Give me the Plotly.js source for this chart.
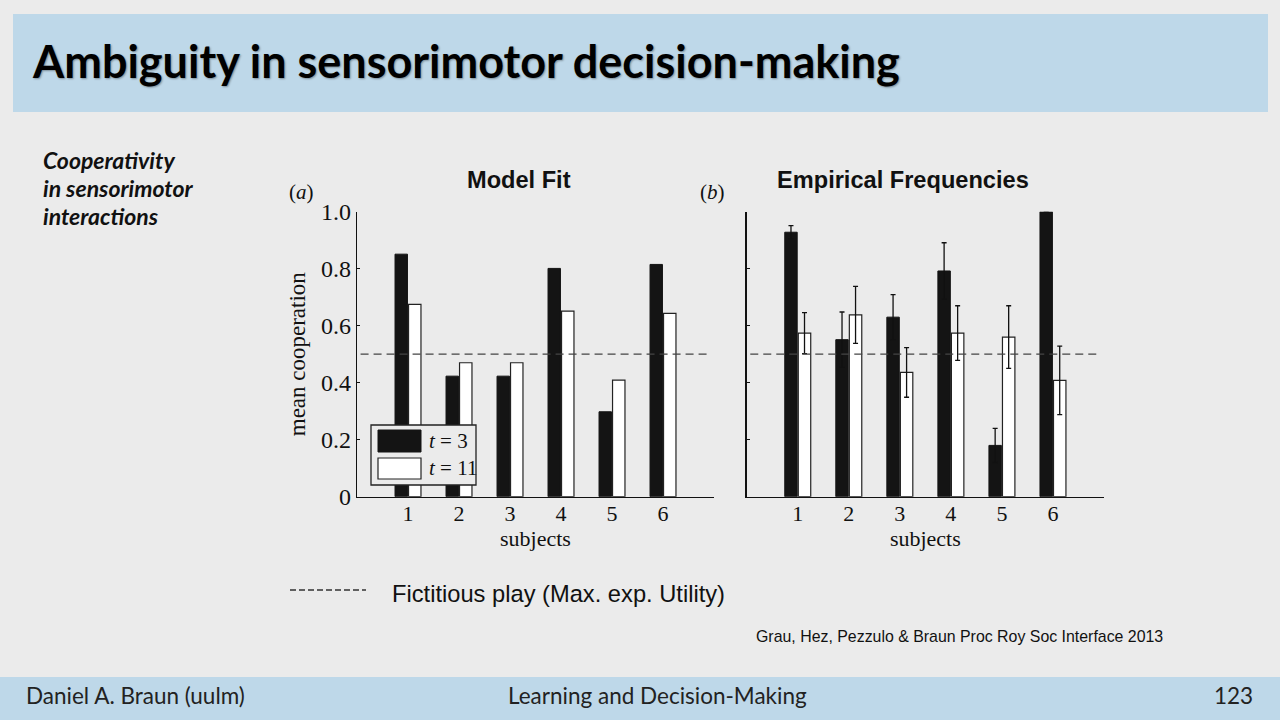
<!DOCTYPE html>
<html>
<head>
<meta charset="utf-8">
<script src="https://cdn.plot.ly/plotly-3.0.1.min.js"></script>
<style>
  html, body { margin: 0; padding: 0; background: #ebebeb; }
  #chart { width: 1280px; height: 720px; }
</style>
</head>
<body>
<div id="chart"></div>
<script>
// ---- data ----
const subjects = [1, 2, 3, 4, 5, 6];
const subjectLabels = ['1', '2', '3', '4', '5', '6'];
const seriesNames = ['t = 3', 't = 11'];
// Model fit (panel a)
const fitT3 = [0.851, 0.423, 0.423, 0.801, 0.298, 0.815];
const fitT11 = [0.675, 0.470, 0.470, 0.651, 0.409, 0.643];
// Empirical frequencies (panel b)
const empT3 = [0.928, 0.551, 0.630, 0.792, 0.180, 1.0];
const empT3Err = [0.023, 0.097, 0.079, 0.099, 0.060, 0];
const empT11 = [0.574, 0.638, 0.436, 0.574, 0.560, 0.408];
const empT11Err = [0.072, 0.100, 0.087, 0.096, 0.110, 0.120];
// reference level: fictitious play
const fictitiousPlay = 0.5;
const yTickVals = [0, 0.2, 0.4, 0.6, 0.8, 1.0];
const yTickText = ['0', '0.2', '0.4', '0.6', '0.8', '1.0'];

// ---- helpers ----
const W = 1280, H = 720;
const px = x => x / W;
const py = y => 1 - y / H;
const SERIF = 'Liberation Serif, Times New Roman, serif';
const SANS = 'Liberation Sans, Arial, sans-serif';
const SLIDE = 'Lato, Noto Sans, sans-serif';
const BG = '#ebebeb';
const BAND = '#bed8e9';
const INK = '#111111';

const blackBar = { color: '#141414', line: { color: '#141414', width: 1 } };
const whiteBar = { color: '#ffffff', line: { color: '#222222', width: 1.2 } };
const errStyle = { type: 'data', visible: true, color: '#111', thickness: 1.3, width: 2.5 };

const traces = [
  { type: 'bar', x: subjects, y: fitT3, name: seriesNames[0], marker: blackBar, xaxis: 'x', yaxis: 'y', showlegend: false },
  { type: 'bar', x: subjects, y: fitT11, name: seriesNames[1], marker: whiteBar, xaxis: 'x', yaxis: 'y', showlegend: false },
  { type: 'bar', x: subjects, y: empT3, name: seriesNames[0], marker: blackBar, xaxis: 'x2', yaxis: 'y2', showlegend: false,
    error_y: Object.assign({ array: empT3Err }, errStyle) },
  { type: 'bar', x: subjects, y: empT11, name: seriesNames[1], marker: whiteBar, xaxis: 'x2', yaxis: 'y2', showlegend: false,
    error_y: Object.assign({ array: empT11Err }, errStyle) }
];

const yDomain = [py(496.7), py(211.7)];
const xAxisCommon = {
  range: [0, 7], tickvals: subjects, ticktext: subjectLabels,
  showline: true, linecolor: INK, linewidth: 1.3, ticks: '', showgrid: false, zeroline: false,
  tickfont: { family: SERIF, size: 22, color: INK }, ticklabelstandoff: -3,
  title: { text: 'subjects', font: { family: SERIF, size: 22, color: INK }, standoff: 0 },
  fixedrange: true
};
const yAxisCommon = {
  range: [0, 1], tickvals: yTickVals, ticktext: yTickText,
  showline: true, linecolor: INK, linewidth: 1.3, ticks: 'inside', ticklen: 3, tickcolor: INK,
  showgrid: false, zeroline: false, domain: yDomain,
  tickfont: { family: SERIF, size: 24, color: INK }, fixedrange: true
};

const ann = (text, x, y, opts) => Object.assign({
  text: text, x: px(x), y: py(y), xref: 'paper', yref: 'paper', showarrow: false,
  xanchor: 'left', yanchor: 'middle'
}, opts || {});

const annotations = [
  ann('<b>Ambiguity in sensorimotor decision-making</b>', 30, 61,
      { font: { family: SLIDE, size: 45, color: '#000', shadow: '1px 1px 2px rgba(0,0,0,0.35)' } }),
  ann('Daniel A. Braun (uulm)', 24, 695, { font: { family: SLIDE, size: 22.5, color: '#222' } }),
  ann('Learning and Decision-Making', 657, 695, { xanchor: 'center', font: { family: SLIDE, size: 22.5, color: '#222' } }),
  ann('123', 1255, 695, { xanchor: 'right', font: { family: SLIDE, size: 22.5, color: '#222' } }),
  ann('<b><i>Cooperativity</i></b>', 41, 160, { font: { family: SLIDE, size: 23, color: '#111' } }),
  ann('<b><i>in sensorimotor</i></b>', 41, 188, { font: { family: SLIDE, size: 23, color: '#111' } }),
  ann('<b><i>interactions</i></b>', 41, 216, { font: { family: SLIDE, size: 23, color: '#111' } }),
  ann('<b>Model Fit</b>', 519, 180, { xanchor: 'center', font: { family: SANS, size: 23.6, color: INK } }),
  ann('<b>Empirical Frequencies</b>', 903, 180, { xanchor: 'center', font: { family: SANS, size: 23.6, color: INK } }),
  ann('(<i>a</i>)', 301, 192, { xanchor: 'center', font: { family: SERIF, size: 21, color: INK } }),
  ann('(<i>b</i>)', 712, 192, { xanchor: 'center', font: { family: SERIF, size: 21, color: INK } }),
  ann('<i>t</i> = 3', 427, 441, { font: { family: SERIF, size: 21, color: INK } }),
  ann('<i>t</i> = 11', 427, 468, { font: { family: SERIF, size: 21, color: INK } }),
  ann('Fictitious play (Max. exp. Utility)', 390, 594, { font: { family: SANS, size: 23.7, color: INK } }),
  ann('Grau, Hez, Pezzulo &amp; Braun Proc Roy Soc Interface 2013', 754, 636, { font: { family: SANS, size: 15.9, color: INK } })
];

const shapes = [
  // title band and footer band
  { type: 'rect', xref: 'paper', yref: 'paper', x0: px(13), x1: px(1268), y0: py(112), y1: py(14),
    fillcolor: BAND, line: { width: 0 }, layer: 'below' },
  { type: 'rect', xref: 'paper', yref: 'paper', x0: 0, x1: 1, y0: 0, y1: py(677),
    fillcolor: BAND, line: { width: 0 }, layer: 'below' },
  // reference level lines
  { type: 'line', xref: 'x domain', yref: 'y', x0: 0.01, x1: 0.99, y0: fictitiousPlay, y1: fictitiousPlay,
    line: { color: '#444', width: 1.3, dash: '8px,5px' }, layer: 'above' },
  { type: 'line', xref: 'x2 domain', yref: 'y2', x0: 0.01, x1: 0.99, y0: fictitiousPlay, y1: fictitiousPlay,
    line: { color: '#444', width: 1.3, dash: '8px,5px' }, layer: 'above' },
  // in-plot legend box
  { type: 'rect', xref: 'paper', yref: 'paper', x0: px(371), x1: px(476), y0: py(485), y1: py(425),
    fillcolor: BG, line: { color: '#222', width: 1.3 }, layer: 'above' },
  { type: 'rect', xref: 'paper', yref: 'paper', x0: px(378), x1: px(421), y0: py(452), y1: py(430),
    fillcolor: '#141414', line: { color: '#141414', width: 1 }, layer: 'above' },
  { type: 'rect', xref: 'paper', yref: 'paper', x0: px(378), x1: px(421), y0: py(479), y1: py(458),
    fillcolor: '#ffffff', line: { color: '#222', width: 1.2 }, layer: 'above' },
  // bottom key line
  { type: 'line', xref: 'paper', yref: 'paper', x0: px(290), x1: px(366), y0: py(590), y1: py(590),
    line: { color: '#333', width: 1.3, dash: '6px,3px' } }
];

const layout = {
  width: W, height: H,
  margin: { l: 0, r: 0, t: 0, b: 0 },
  paper_bgcolor: BG, plot_bgcolor: 'rgba(0,0,0,0)',
  barmode: 'group', bargap: 0.47, bargroupgap: 0.08,
  showlegend: false,
  xaxis: Object.assign({}, xAxisCommon, { domain: [px(357), px(714)], anchor: 'y' }),
  yaxis: Object.assign({}, yAxisCommon, { anchor: 'x',
    title: { text: 'mean cooperation', font: { family: SERIF, size: 23, color: INK }, standoff: 8 } }),
  xaxis2: Object.assign({}, xAxisCommon, { domain: [px(746.7), px(1104)], anchor: 'y2' }),
  yaxis2: Object.assign({}, yAxisCommon, { anchor: 'x2', showticklabels: false }),
  annotations: annotations,
  shapes: shapes
};

Plotly.newPlot('chart', traces, layout, { displayModeBar: false, staticPlot: true });
</script>
</body>
</html>
